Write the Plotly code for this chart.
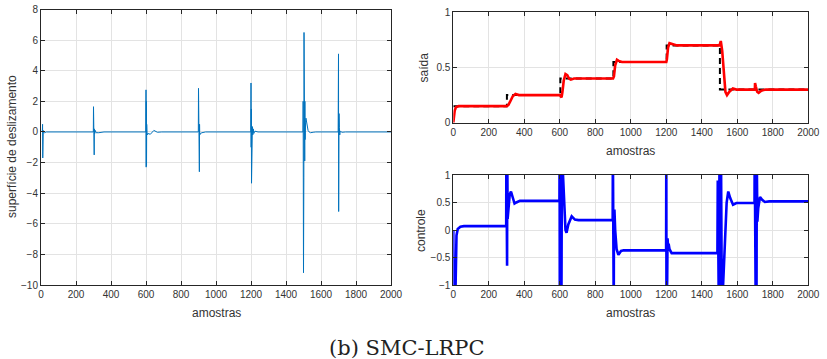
import plotly.graph_objects as go

# ---------------- data ----------------
# sliding surface (left panel)
s_x = [0, 8, 9, 10, 11, 12, 13, 15, 20, 30,
       299, 300, 301, 302, 303, 304, 305, 307, 310, 315, 330, 360,
       599, 600, 601, 602, 603, 604, 606, 610, 625, 645, 665, 690,
       899, 900, 901, 902, 903, 904, 905, 906, 907, 910, 920, 940,
       1199, 1200, 1201, 1202, 1203, 1204, 1206, 1208, 1210, 1213, 1216, 1222, 1240,
       1497, 1498, 1499, 1500, 1501, 1502, 1503, 1504, 1505, 1506, 1507, 1508, 1509, 1510,
       1512, 1514, 1517, 1521, 1526, 1532, 1540, 1555, 1570,
       1698, 1700, 1701, 1702, 1703, 1704, 1705, 1707, 1710, 1720, 1740, 2000]
s_y = [0, 0.1, 0.5, -1.7, 0.3, -0.3, 0.1, -0.05, -0.05, 0,
       0, 1.65, -0.5, 1.6, 0.1, -1.5, 0.2, -0.1, 0.1, -0.05, -0.05, 0,
       0, 2.75, -2.3, 2.0, -2.2, 0.5, -0.2, -0.1, -0.15, 0.1, -0.02, 0,
       0, 2.85, -0.5, 2.8, -0.3, 2.85, -2.6, 0.5, -0.2, -0.1, -0.05, 0,
       0, 3.2, -1.0, 1.5, -3.35, 0.3, -0.3, 0.35, -0.2, 0.2, -0.1, 0.05, 0,
       0, 2.0, -1.0, -9.2, 1.0, -3.0, 6.5, -1.5, 0.5, 2.1, -1.9, 2.0, -0.5, 1.0,
       0.6, 0.9, 0.6, 0.3, 0.1, 0.0, -0.05, -0.02, 0,
       0, 5.1, -5.2, 0.5, 1.2, -1.4, 0.3, -0.2, 0.05, -0.02, 0, 0]

# reference (top right, dashed)
r_x = [0, 302, 302, 603, 603, 902, 902, 1202, 1202, 1502, 1502, 2000]
r_y = [0.15, 0.15, 0.25, 0.25, 0.4, 0.4, 0.55, 0.55, 0.7, 0.7, 0.3, 0.3]

# output (top right, red)
y_x = [0, 3, 8, 15, 30, 300, 310, 320, 335, 350, 370, 600, 603, 610, 615, 622, 632, 642,
       652, 662, 680, 900, 905, 912, 922, 932, 950, 1200, 1203, 1210, 1218, 1235, 1260,
       1500, 1504, 1507, 1515, 1525, 1533, 1542, 1555, 1575, 1595, 1699, 1700, 1704,
       1712, 1720, 1735, 1760, 2000]
y_y = [0, 0.05, 0.11, 0.14, 0.15, 0.15, 0.16, 0.19, 0.24, 0.26, 0.25, 0.25, 0.24, 0.23,
       0.28, 0.38, 0.44, 0.43, 0.40, 0.39, 0.40, 0.40, 0.42, 0.52, 0.57, 0.56, 0.55, 0.55,
       0.57, 0.68, 0.72, 0.71, 0.70, 0.70, 0.72, 0.74, 0.65, 0.40, 0.28, 0.25, 0.28, 0.31,
       0.30, 0.30, 0.36, 0.33, 0.28, 0.27, 0.29, 0.30, 0.30]

# control (bottom right, blue)
u_x = [0, 2, 10, 14, 18, 25, 40, 60,
       298, 299, 300, 301, 303, 304, 306, 312, 318, 325, 335, 345, 355, 375,
       598, 599, 600, 602, 603, 608, 609, 610, 612, 618, 625, 632, 638, 648, 667, 685, 705,
       898, 899, 900, 902, 904, 905, 908, 912, 920, 930, 945, 960,
       1199, 1200, 1201, 1202, 1203, 1205, 1207, 1210, 1213, 1218, 1230, 1240,
       1488, 1490, 1492, 1494, 1496, 1500, 1502, 1504, 1506, 1508, 1510, 1513, 1520, 1530,
       1540, 1549, 1560, 1576, 1595, 1610,
       1697, 1698, 1700, 1702, 1704, 1706, 1708, 1710, 1713, 1718, 1728, 1740, 1755, 1780, 2000]
u_y = [0, -1.5, -1.5, -0.5, -0.1, 0.02, 0.06, 0.07,
       0.07, 1.5, -0.65, 1.5, -0.65, 1.5, 0.2, 0.45, 0.65, 0.7, 0.58, 0.48, 0.5, 0.53,
       0.53, 1.5, -1.5, -1.5, 1.5, 1.5, -1.5, 1.5, 1.5, 1.0, 0.4, 0.0, -0.05, 0.1, 0.25, 0.19, 0.18,
       0.18, 1.5, -1.5, 1.5, -1.5, 0.35, 0.35, 0.0, -0.35, -0.45, -0.38, -0.37,
       -0.37, 1.5, -1.5, 1.5, -0.1, -0.9, -0.15, -0.3, -0.25, -0.35, -0.42, -0.42,
       -0.42, 0.9, -1.5, 0.9, -1.5, 1.5, -1.5, 1.5, -1.5, 1.5, -1.5, -1.5, -1.0, -0.1,
       0.5, 0.7, 0.58, 0.46, 0.49, 0.49,
       0.49, 1.5, -1.5, 1.5, -1.5, 1.5, -1.5, 1.2, 0.15, 0.4, 0.6, 0.55, 0.51, 0.52, 0.52]

x_ticks = [0, 200, 400, 600, 800, 1000, 1200, 1400, 1600, 1800, 2000]
s_ticks = [8, 6, 4, 2, 0, -2, -4, -6, -8, -10]
y_ticks = [0, 0.5, 1]
u_ticks = [-1, -0.5, 0, 0.5, 1]

# ---------------- figure ----------------
W, H = 827, 359
def px(x):
    return x / W
def py(y):
    return 1 - y / H

fig = go.Figure()
fig.add_trace(go.Scatter(x=s_x, y=s_y, mode="lines", line=dict(color="#0072BD", width=1),
                         xaxis="x", yaxis="y", showlegend=False))
fig.add_trace(go.Scatter(x=r_x, y=r_y, mode="lines", line=dict(color="black", width=2, dash="6px,4px"),
                         xaxis="x2", yaxis="y2", showlegend=False))
fig.add_trace(go.Scatter(x=y_x, y=y_y, mode="lines", line=dict(color="#FF0000", width=2.6),
                         xaxis="x2", yaxis="y2", showlegend=False))
fig.add_trace(go.Scatter(x=u_x, y=u_y, mode="lines", line=dict(color="#0000FF", width=2.6),
                         xaxis="x3", yaxis="y3", showlegend=False))

axis_common = dict(showline=True, linecolor="#262626", linewidth=1, mirror="ticks",
                   ticks="inside", ticklen=4, tickcolor="#262626", showgrid=True,
                   gridcolor="#e3e3e3", gridwidth=1, zeroline=False, automargin=False,
                   tickfont=dict(family="Liberation Sans, Arial", size=10, color="#333333"))

fig.update_layout(
    template="none",
    width=W, height=H, margin=dict(l=0, r=0, t=0, b=0, pad=0),
    paper_bgcolor="white", plot_bgcolor="white",
    xaxis=dict(domain=[px(41), px(391)], range=[0, 2000], tickvals=x_ticks, anchor="y", **axis_common),
    yaxis=dict(domain=[py(285), py(9.5)], range=[-10, 8], tickvals=s_ticks, anchor="x", **axis_common),
    xaxis2=dict(domain=[px(453.3), px(808.3)], range=[0, 2000], tickvals=x_ticks, anchor="y2", **axis_common),
    yaxis2=dict(domain=[py(122.7), py(12.3)], range=[0, 1], tickvals=y_ticks, anchor="x2", **axis_common),
    xaxis3=dict(domain=[px(453.3), px(808.3)], range=[0, 2000], tickvals=x_ticks, anchor="y3", **axis_common),
    yaxis3=dict(domain=[py(285), py(175)], range=[-1, 1], tickvals=u_ticks, anchor="x3", **axis_common),
)

tfont = dict(family="Liberation Sans, Arial", size=12, color="#333333")
ann = [
    dict(text="amostras", x=px(216), y=py(313)),
    dict(text="amostras", x=px(630.8), y=py(151)),
    dict(text="amostras", x=px(630.8), y=py(313)),
    dict(text="superfície de deslizamento", x=px(12), y=py(147), textangle=-90),
    dict(text="saída", x=px(423), y=py(67.5), textangle=-90),
    dict(text="controle", x=px(421), y=py(230), textangle=-90),
]
for a in ann:
    fig.add_annotation(xref="paper", yref="paper", showarrow=False, xanchor="center",
                       yanchor="middle", font=tfont, **a)
fig.add_annotation(xref="paper", yref="paper", showarrow=False, xanchor="center", yanchor="middle",
                   text="(b) SMC-LRPC", x=px(406.5), y=py(347.5),
                   font=dict(family="DejaVu Serif", size=21, color="#222222"))

fig.write_html("out.html")
